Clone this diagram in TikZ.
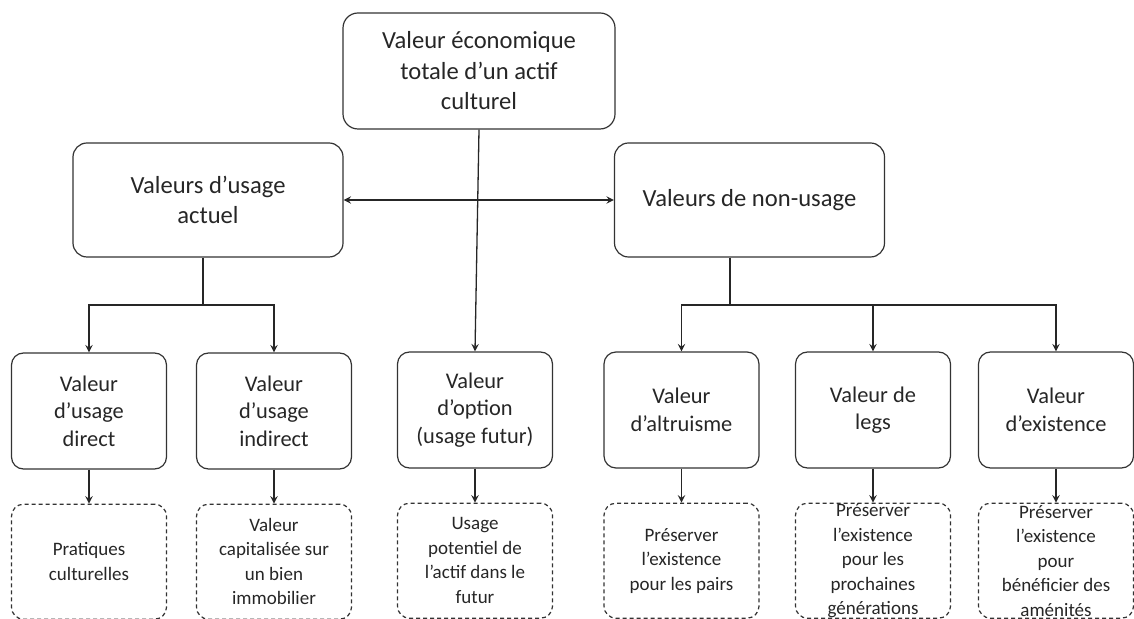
\documentclass[tikz,border=0pt]{standalone}
\usepackage{fontspec}
\setmainfont{Carlito}
\usetikzlibrary{positioning}
\tikzset{
valeur/.style={rectangle, rounded corners=7pt, draw=black!80, line width=0.6pt, text=black!85, align=center, inner sep=2pt},
grand/.style={valeur, minimum width=135pt, minimum height=57pt, font=\fontsize{12.3}{15.25}\selectfont},
petit/.style={valeur, rounded corners=6pt, minimum width=77.5pt, minimum height=58pt, font=\fontsize{11.2}{13.75}\selectfont},
detail/.style={petit, dash pattern=on 2pt off 1.5pt, minimum height=57.5pt, inner ysep=0pt, font=\fontsize{9.5}{12.25}\selectfont},
trait/.style={draw=black!85, line width=0.65pt},
arrow/.style={trait,->,>=stealth},
}

\begin{document}
\begin{tikzpicture}[x=0.5pt,y=-0.5pt]
\useasboundingbox (0,0) rectangle (1134,619);

\node[grand,minimum width=136pt,minimum height=58pt,rounded corners=7.5pt](valeur_totale) at (479,71) {Valeur économique\\totale d’un actif\\culturel};
\node[grand](usage_actuel) at (208,200) {Valeurs d’usage\\actuel};
\node[grand](non_usage) at (749.5,200) {Valeurs de non-usage};

\node[petit](usage_direct) at (89,411) {Valeur\\d’usage\\direct};
\node[petit](usage_indirect) at (274,411) {Valeur\\d’usage\\indirect};
\node[petit](usage_option) at (475,410) {Valeur\\d’option\\(usage futur)};
\node[petit](altruisme) at (681.5,410) {Valeur\\d’altruisme};
\node[petit](legs) at (873,410) {Valeur de\\legs};
\node[petit](existence) at (1056,410) {Valeur\\d’existence};

\node[detail,below=17pt of usage_direct](pratiques){Pratiques\\culturelles};
\node[detail,below=17pt of usage_indirect](immobilier){Valeur\\capitalisée sur\\un bien\\immobilier};
\node[detail,below=17pt of usage_option](potentiel){Usage\\potentiel de\\l’actif dans le\\futur};
\node[detail,below=17pt of altruisme](pairs){Préserver\\l’existence\\pour les pairs};
\node[detail,below=17pt of legs](generations){Préserver\\l’existence\\pour les\\prochaines\\générations};
\node[detail,below=17pt of existence](amenites){Préserver\\l’existence\\pour\\bénéficier des\\aménités};

\coordinate (bus_left) at (203,305);
\coordinate (bus_right) at (730,305);

\draw [arrow] (valeur_totale.south) -- (usage_option.north);
\draw [arrow,<->] (usage_actuel) -- (non_usage);

\draw [trait] (usage_actuel.south -| bus_left) -- (bus_left);
\draw [arrow] (bus_left) -| (usage_direct.north);
\draw [arrow] (bus_left) -| (usage_indirect.north);

\draw [trait] (non_usage.south -| bus_right) -- (bus_right);
\draw [arrow] (bus_right) -| (altruisme.north);
\draw [arrow] (bus_right) -| (legs.north);
\draw [arrow] (bus_right) -| (existence.north);

\draw [arrow] (usage_direct) -- (pratiques);
\draw [arrow] (usage_indirect) -- (immobilier);
\draw [arrow] (usage_option) -- (potentiel);
\draw [arrow] (altruisme) -- (pairs);
\draw [arrow] (legs) -- (generations);
\draw [arrow] (existence) -- (amenites);
\end{tikzpicture}
\end{document}
